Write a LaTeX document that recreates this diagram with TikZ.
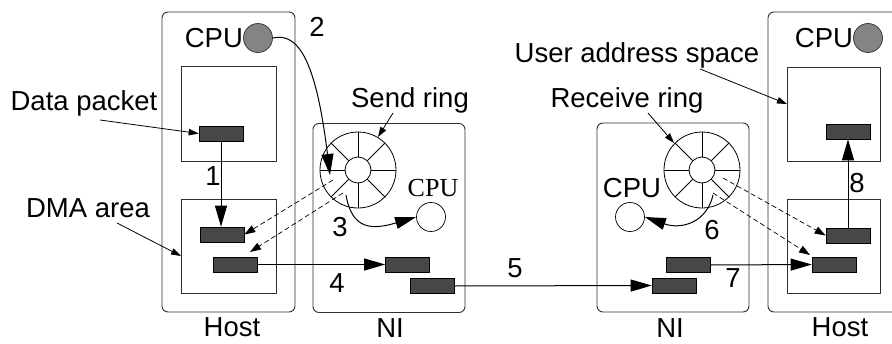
\documentclass[tikz,border=0pt]{standalone}
\usepackage{fontspec}
\setmainfont{Liberation Sans}
\newfontfamily\cpuserif{Liberation Serif}
\usetikzlibrary{arrows.meta,calc}
\definecolor{pktgray}{HTML}{474747}
\definecolor{cpugray}{HTML}{848484}
\definecolor{boxline}{HTML}{303030}
\begin{document}
\begin{tikzpicture}[x=1pt,y=-1pt,
  hostbox/.style={draw=boxline, line width=0.9pt, rounded corners=6pt, inner sep=0, minimum width=133pt, minimum height=300pt},
  nibox/.style={draw=boxline, line width=0.9pt, rounded corners=6pt, inner sep=0, minimum width=152pt, minimum height=189pt},
  membox/.style={draw=boxline, line width=0.8pt, inner sep=0, minimum width=95pt, minimum height=95pt},
  pkt/.style={draw=black, line width=0.6pt, fill=pktgray, inner sep=0, minimum width=44pt, minimum height=15pt},
  hostcpu/.style={circle, draw=boxline, line width=0.7pt, fill=cpugray, inner sep=0, minimum size=29pt},
  nicpu/.style={circle, draw=black, line width=0.7pt, inner sep=0, minimum size=29pt},
  ringout/.style={circle, draw=black, line width=0.8pt, inner sep=0, minimum size=76pt},
  ringin/.style={circle, draw=black, line width=0.8pt, inner sep=0, minimum size=26pt},
  lbl/.style={font=\fontsize{27.5}{30}\selectfont, inner sep=0},
  serlbl/.style={font=\cpuserif\fontsize{26}{28}\selectfont, inner sep=0},
  arr/.style={line width=1pt, -{Triangle[length=21pt,width=12pt]}},
  ptr/.style={line width=0.8pt, -{Triangle[length=10pt,width=6.5pt]}},
  dsh/.style={line width=0.7pt, dash pattern=on 5pt off 3pt, -{Triangle[length=11pt,width=7.5pt]}},
  plain/.style={line width=0.9pt}
]
\useasboundingbox (0,0) rectangle (892,343);
\clip (0,0) rectangle (892,343);

% ---------------- left host ----------------
\node[hostbox] (hostL) at (228.5,162) {};
\node[membox] (userL) at (228.5,113.5) {};
\node[membox, minimum height=94pt] (dmaL) at (228.5,246) {};
\node[pkt] (p1) at (221,133.5) {};
\node[pkt] (d1) at (222,234.5) {};
\node[pkt] (d2) at (235.5,264.5) {};
\node[hostcpu] (g1) at (258,38) {};
\node[lbl, anchor=east] (cpuL) at (g1.west) {CPU};
\node[lbl] (hostLlbl) at (232,327) {Host};

% ---------------- send NI ----------------
\node[nibox] (niS) at (389,218) {};
\node[ringout] (ringS) at (358,170) {};
\node[ringin] (ringSi) at (358,170) {};
\foreach \a in {0,45,...,315} \draw[line width=0.8pt] (ringSi.\a) -- (ringS.\a);
\node[nicpu] (c2) at (431,217) {};
\node[serlbl] (cpuS) at (433,188) {CPU};
\node[pkt] (n1) at (407.5,264.5) {};
\node[pkt] (n2) at (432,286) {};
\node[lbl] (niSlbl) at (390,328) {NI};

% ---------------- receive NI ----------------
\node[nibox] (niR) at (673,217.5) {};
\node[ringout] (ringR) at (702,170) {};
\node[ringin] (ringRi) at (702,170) {};
\foreach \a in {0,45,...,315} \draw[line width=0.8pt] (ringRi.\a) -- (ringR.\a);
\node[nicpu] (c3) at (630,217) {};
\node[lbl] (cpuR) at (632,188) {CPU};
\node[pkt] (r1) at (688,265) {};
\node[pkt] (r2) at (674,285.5) {};
\node[lbl] (niRlbl) at (670,328) {NI};

% ---------------- right host ----------------
\node[hostbox, minimum width=134pt] (hostR) at (835,162) {};
\node[membox, minimum width=93pt, minimum height=94pt] (userR) at (833.5,114) {};
\node[membox, minimum width=93pt, minimum height=94pt] (dmaR) at (833.5,246) {};
\node[pkt] (u) at (848,131.5) {};
\node[pkt] (e1) at (848,235.5) {};
\node[pkt] (e2) at (834,264.5) {};
\node[hostcpu] (g4) at (868,38) {};
\node[lbl, anchor=east] (cpuRH) at (g4.west) {CPU};
\node[lbl] (hostRlbl) at (840,327) {Host};

% ---------------- labels ----------------
\node[lbl] (dplbl) at (84,103) {Data packet};
\node[lbl] (dmalbl) at (88,208) {DMA area};
\node[lbl] (srlbl) at (410,100) {Send ring};
\node[lbl] (rrlbl) at (627,100) {Receive ring};
\node[lbl] (ualbl) at (637,55) {User address space};
\node[lbl] (s1) at (213,176) {1};
\node[lbl] (s2) at (317,27) {2};
\node[lbl] (s3) at (340,227) {3};
\node[lbl] (s4) at (337,283) {4};
\node[lbl] (s5) at (515,268) {5};
\node[lbl] (s6) at (712,230) {6};
\node[lbl] (s7) at (733,278) {7};
\node[lbl] (s8) at (857,183) {8};

% ---------------- coordinates ----------------
\coordinate (dpt) at (100,120);
\coordinate (dmat) at (117,223);
\coordinate (dmah) at (181,256);
\coordinate (srt) at (393,113);
\coordinate (srh) at (378,137);
\coordinate (rrt) at (648,113);
\coordinate (rrh) at (674,143);
\coordinate (uat) at (700,69);
\coordinate (uah) at (787,104);
\coordinate (cpu2in) at (330,175);
\coordinate (s3start) at (346,195);
\coordinate (s6start) at (713,195);
\coordinate (dsA) at (333,180);
\coordinate (dsB) at (343,193);
\coordinate (dsBend) at (250,252);
\coordinate (drA) at (723,178);
\coordinate (drB) at (713,193);
\coordinate (drBend) at (810,255);

% ---------------- pointers ----------------
\draw[ptr] (dpt) -- (p1.west);
\draw[ptr] (dmat) -- (dmah);
\draw[ptr] (srt) -- (srh);
\draw[ptr] (rrt) -- (rrh);
\draw[ptr] (uat) -- (uah);

% ---------------- steps ----------------
\draw[arr] (p1.south) -- (p1.south |- d1.north);
\draw[arr] (g1.east) .. controls (298,32) and (316,60) .. (cpu2in);
\draw[arr] (s3start) .. controls (352,230) and (372,230) .. (c2.west);
\draw[arr] (d2.east) -- (n1.west);
\draw[arr] (n2.east) -- (r2.west);
\draw[arr] (s6start) .. controls (707,222) and (682,230) .. (c3.east);
\draw[arr] (r1.east) -- (e2.west);
\draw[arr] (e1.north) -- (e1.north |- u.south);

% ---------------- dashed DMA ----------------
\draw[dsh] (dsA) -- (d1.east);
\draw[dsh] (dsB) -- (dsBend);
\draw[dsh] (drA) -- (e1.west);
\draw[dsh] (drB) -- (drBend);
\end{tikzpicture}
\end{document}
